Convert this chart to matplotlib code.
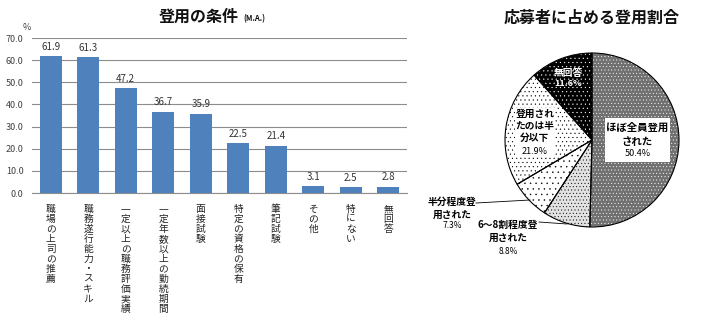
import matplotlib
matplotlib.use("Agg")
import matplotlib.pyplot as plt
from matplotlib.patches import Rectangle
import numpy as np

plt.rcParams['font.family'] = ['Noto Sans CJK JP', 'DejaVu Sans']
plt.rcParams['hatch.linewidth'] = 0.3

# bar chart data
conditions = ['職場の上司の推薦', '職務遂行能力・スキル', '一定以上の職務評価実績',
              '一定年数以上の勤続期間', '面接試験', '特定の資格の保有', '筆記試験',
              'その他', '特にない', '無回答']
cond_values = [61.9, 61.3, 47.2, 36.7, 35.9, 22.5, 21.4, 3.1, 2.5, 2.8]

# pie data (clockwise from top)
pie_labels = [['ほぼ全員登用', 'された'], ['6～8割程度登', '用された'], ['半分程度登', '用された'],
              ['登用され', 'たのは半', '分以下'], ['無回答']]
pie_values = [50.4, 8.8, 7.3, 21.9, 11.6]

W, H = 719, 327
fig = plt.figure(figsize=(W / 100, H / 100), dpi=100)

# ---- bar chart ----
ax = fig.add_axes([32 / W, 1 - 193 / H, (407 - 32) / W, (193 - 38) / H])
x = np.arange(len(conditions))
ax.bar(x, cond_values, width=0.58, color='#4f81bd', zorder=3)
ax.set_xlim(-0.5, len(conditions) - 0.5)
ax.set_ylim(0, 70)
ax.set_yticks(np.arange(0, 71, 10))
ax.set_yticklabels(['%.1f' % v for v in np.arange(0, 71, 10)], fontsize=6.5, color='#404040')
ax.yaxis.grid(True, color='#8c8c8c', linewidth=0.8, zorder=0)
ax.tick_params(axis='y', length=0, pad=6)
ax.tick_params(axis='x', length=0, pad=8)
for s in ['left', 'right', 'top']:
    ax.spines[s].set_visible(False)
ax.spines['bottom'].set_color('#8c8c8c')
ax.set_xticks(x)
ax.set_xticklabels(['\n'.join(c) for c in conditions], fontsize=7, color='#222222',
                   va='top', linespacing=1.0)
for xi, v in zip(x, cond_values):
    ax.text(xi, v + 2.0, '%.1f' % v, ha='center', va='bottom', fontsize=7, color='#333333')
fig.text(27 / W, 1 - 28 / H, '%', fontsize=6.5, color='#404040', ha='center', va='center')

fig.text(199 / W, 1 - 17 / H, '登用の条件', fontsize=11.5, fontweight='bold',
         ha='center', va='center', color='#111111')
fig.text(243 / W, 1 - 19 / H, '(M.A.)', fontsize=5.5, fontweight='bold',
         ha='left', va='center', color='#111111')

# ---- pie chart ----
cx, cy, scale = 592, 140, 100.0
pax = fig.add_axes([420 / W, 0, 299 / W, (327 - 30) / H])
faces = ['#707070', '#e2e2e2', 'white', 'white', 'black']
hatch_cols = ['white', 'black', 'black', 'black', 'white']
hatches = ['.....', '.....', '...', '....', '....']
r = 0.87
pax.pie(pie_values, radius=r, startangle=90, counterclock=False,
        colors=faces, wedgeprops=dict(linewidth=0))
hw, _ = pax.pie(pie_values, radius=r, startangle=90, counterclock=False,
                wedgeprops=dict(linewidth=0, fill=False))
for w, hc, h in zip(hw, hatch_cols, hatches):
    w.set_edgecolor(hc)
    w.set_hatch(h)
pax.pie(pie_values, radius=r, startangle=90, counterclock=False,
        wedgeprops=dict(linewidth=0.8, edgecolor='black', fill=False))
pax.set_xlim((420 - cx) / scale, (719 - cx) / scale)
pax.set_ylim(-(327 - cy) / scale, (cy - 30) / scale)
pax.set_aspect('equal')
pax.axis('off')

# white label boxes
pax.add_patch(Rectangle((0.13, -0.22), 0.65, 0.44, facecolor='white', edgecolor='none', zorder=3))
pax.add_patch(Rectangle((-0.77, -0.17), 0.40, 0.49, facecolor='white', edgecolor='none', zorder=3))

def put_label(xc, ys, lines, pct, ypct, size=7, psize=6.5, color='black', pbold=False):
    for yy, ln in zip(ys, lines):
        pax.text(xc, yy, ln, fontsize=size, fontweight='bold', ha='center', va='center',
                 color=color, zorder=4)
    pax.text(xc, ypct, '%.1f%%' % pct, fontsize=psize, ha='center', va='center',
             color=color, fontweight='bold' if pbold else 'normal', zorder=4)

put_label(0.455, [0.12, -0.02], pie_labels[0], pie_values[0], -0.13, size=7.5)
put_label(-0.57, [0.26, 0.135, 0.02], pie_labels[3], pie_values[3], -0.11, size=7)
put_label(-0.24, [0.67], pie_labels[4], pie_values[4], 0.56, color='white', pbold=True)
put_label(-1.40, [-0.62, -0.75], pie_labels[2], pie_values[2], -0.86, size=7, psize=6)
put_label(-0.84, [-0.85, -0.98], pie_labels[1], pie_values[1], -1.11, size=7, psize=6)

pax.plot([-1.16, -0.62], [-0.63, -0.60], color='black', lw=0.6)
pax.plot([-0.53, -0.25], [-0.82, -0.84], color='black', lw=0.6)

fig.text(cx / W, 1 - 18 / H, '応募者に占める登用割合', fontsize=11.5, fontweight='bold',
         ha='center', va='center', color='#111111')

fig.savefig('out.png', dpi=100)
